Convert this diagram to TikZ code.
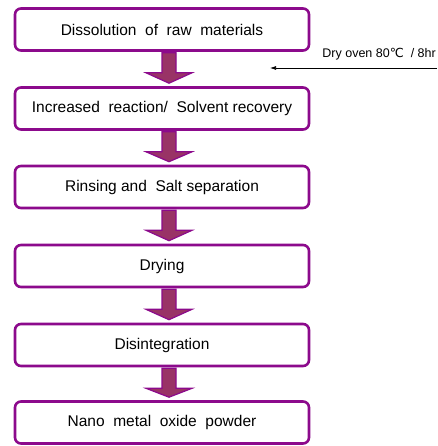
\documentclass[tikz,border=0pt]{standalone}
\usepackage{fontspec}
\setmainfont{Liberation Sans}
\newfontfamily\dvfont{DejaVu Sans}
\usetikzlibrary{calc,arrows.meta}
\definecolor{boxpurple}{HTML}{8C0A8C}
\definecolor{arrowfill}{HTML}{993366}
\tikzset{
  stepbox/.style={draw=boxpurple, line width=2.6pt, rounded corners=6pt, fill=white,
    minimum width=294pt, minimum height=42pt, inner sep=0pt, font=\fontsize{15.5}{18}\selectfont},
  blockarrow/.style={draw=boxpurple, fill=arrowfill, line width=1.2pt, line join=miter},
  note/.style={font=\fontsize{12.5}{15}\selectfont, inner sep=0pt, anchor=south east}
}
\begin{document}
\begin{tikzpicture}[x=1pt,y=1pt]
\useasboundingbox (0,0) rectangle (437,-446);
\node[stepbox] (b1) at (162,-29.5) {Dissolution \ of \ raw \ materials};
\node[stepbox] (b2) at (162,-108.5) {Increased \ reaction/ \ Solvent recovery};
\node[stepbox] (b3) at (162,-187) {Rinsing and \ Salt separation};
\node[stepbox] (b4) at (162,-266) {Drying};
\node[stepbox] (b5) at (162,-345) {Disintegration};
\node[stepbox] (b6) at (162,-422.5) {Nano \ metal \ oxide \ powder};
\foreach \a/\b in {b1/b2,b2/b3,b3/b4,b4/b5,b5/b6}{
  \path (\a.south) ++(7,-1) coordinate (s);
  \path (\b.north) ++(7,-1) coordinate (e);
  \draw[blockarrow] ($(s)+(-7,0)$) -- ($(s)+(7,0)$) -- ($(s)+(7,-20)$) -- ($(s)+(23,-20)$)
     -- ($(e)+(0,4)$) -- ($(s)+(-23,-20)$) -- ($(s)+(-7,-20)$) -- cycle;
}
\coordinate (src) at (437,-68);
\coordinate (dst) at (270,-68);
\draw[-{Latex[length=6pt,width=4pt]}, line width=0.7pt] (src) -- (dst);
\node[note] (lab) at (436,-60) {Dry oven 80{\dvfont ℃} \ / 8hr};
\end{tikzpicture}
\end{document}
